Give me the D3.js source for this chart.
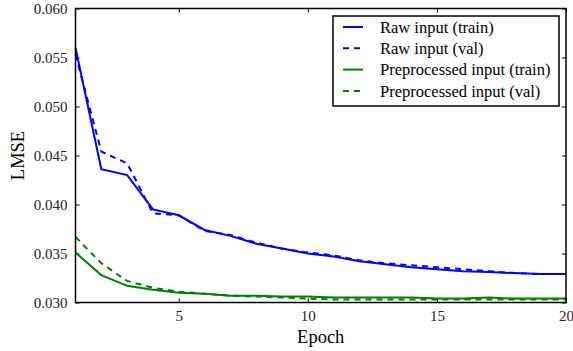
<!DOCTYPE html>
<html>
<head>
<meta charset="utf-8">
<script src="https://cdn.jsdelivr.net/npm/d3@7"></script>
<style>
  body { margin: 0; background: #fff; }
</style>
</head>
<body>
<div id="chart"></div>
<script>
const epochs = d3.range(1, 21);
const rawTrain = [0.0560, 0.0436, 0.0430, 0.0395, 0.0389, 0.0374, 0.0368, 0.0360, 0.0355, 0.0350,
                  0.0347, 0.0342, 0.0339, 0.0336, 0.0334, 0.0332, 0.0331, 0.0330, 0.0329, 0.0329];
const rawVal   = [0.0553, 0.0454, 0.0442, 0.0391, 0.0389, 0.0373, 0.0369, 0.0361, 0.0355, 0.0351,
                  0.0348, 0.0343, 0.0340, 0.0338, 0.0336, 0.0334, 0.0332, 0.0330, 0.0329, 0.0329];
const preTrain = [0.0351, 0.0328, 0.0317, 0.0313, 0.0310, 0.0309, 0.0307, 0.0307, 0.0306, 0.0306,
                  0.0305, 0.0305, 0.0305, 0.0305, 0.0304, 0.0304, 0.0305, 0.0304, 0.0304, 0.0304];
const preVal   = [0.0367, 0.0340, 0.0322, 0.0315, 0.0311, 0.0309, 0.0307, 0.0306, 0.0305, 0.0304,
                  0.0303, 0.0303, 0.0303, 0.0303, 0.0303, 0.0303, 0.0303, 0.0303, 0.0303, 0.0303];
const xTicks = [5, 10, 15, 20];
const yTicks = [0.030, 0.035, 0.040, 0.045, 0.050, 0.055, 0.060];

const series = [
  {name: "Raw input (train)", values: rawTrain, color: "#0000ff", dash: null},
  {name: "Raw input (val)", values: rawVal, color: "#0000ff", dash: "6,5"},
  {name: "Preprocessed input (train)", values: preTrain, color: "#008000", dash: null},
  {name: "Preprocessed input (val)", values: preVal, color: "#008000", dash: "6,5"}
];

const font = '"Liberation Serif", "Times New Roman", serif';
const width = 573, height = 351,
  margin = {top: 8.5, right: 7, bottom: 48.5, left: 75.5};

const svg = d3.select("#chart")
  .append("svg")
  .attr("width", width)
  .attr("height", height);

const x = d3.scaleLinear([1, 20], [margin.left, width - margin.right]);
const y = d3.scaleLinear([0.030, 0.060], [height - margin.bottom, margin.top]);

// ticks on all four sides, pointing inward
const tickLen = 4;
svg.append("g")
  .attr("transform", `translate(0,${height - margin.bottom})`)
  .call(d3.axisBottom(x).tickValues(xTicks).tickSizeInner(-tickLen).tickSizeOuter(0).tickPadding(8))
  .call(g => g.select(".domain").remove())
  .call(g => g.selectAll("text").style("font-size", "15px").style("font-family", font).attr("fill", "#222"));

svg.append("g")
  .attr("transform", `translate(0,${margin.top})`)
  .call(d3.axisTop(x).tickValues(xTicks).tickSizeInner(-tickLen).tickSizeOuter(0).tickFormat(""))
  .call(g => g.select(".domain").remove());

svg.append("g")
  .attr("transform", `translate(${margin.left},0)`)
  .call(d3.axisLeft(y).tickValues(yTicks).tickSizeInner(-tickLen).tickSizeOuter(0).tickPadding(8).tickFormat(d3.format(".3f")))
  .call(g => g.select(".domain").remove())
  .call(g => g.selectAll("text").style("font-size", "15px").style("font-family", font).attr("fill", "#222"));

svg.append("g")
  .attr("transform", `translate(${width - margin.right},0)`)
  .call(d3.axisRight(y).tickValues(yTicks).tickSizeInner(-tickLen).tickSizeOuter(0).tickFormat(""))
  .call(g => g.select(".domain").remove());

const line = d3.line()
  .x((d, i) => x(epochs[i]))
  .y(d => y(d));

svg.append("g")
  .selectAll("path")
  .data(series)
  .join("path")
  .attr("fill", "none")
  .attr("stroke", d => d.color)
  .attr("stroke-width", 2)
  .attr("stroke-dasharray", d => d.dash)
  .attr("d", d => line(d.values));

// frame
svg.append("rect")
  .attr("x", margin.left)
  .attr("y", margin.top)
  .attr("width", width - margin.left - margin.right)
  .attr("height", height - margin.top - margin.bottom)
  .attr("fill", "none")
  .attr("stroke", "#000")
  .attr("stroke-width", 1.5);

svg.append("text")
  .attr("text-anchor", "middle")
  .attr("transform", `translate(24,${(margin.top + height - margin.bottom) / 2}) rotate(-90)`)
  .style("font-family", font)
  .style("font-size", "18.5px")
  .text("LMSE");

svg.append("text")
  .attr("text-anchor", "middle")
  .attr("x", (margin.left + width - margin.right) / 2)
  .attr("y", 343)
  .style("font-family", font)
  .style("font-size", "18.5px")
  .text("Epoch");

// legend
const legend = svg.append("g").attr("transform", "translate(333,16)");
legend.append("rect")
  .attr("width", 226)
  .attr("height", 90)
  .attr("fill", "#fff")
  .attr("stroke", "#000")
  .attr("stroke-width", 1.5);

const item = legend.selectAll(".legend-item")
  .data(series)
  .join("g")
  .attr("class", "legend-item")
  .attr("transform", (d, i) => `translate(0,${11 + i * 21.3})`);

item.append("line")
  .attr("x1", 10).attr("x2", 30)
  .attr("stroke", d => d.color)
  .attr("stroke-width", 2)
  .attr("stroke-dasharray", d => d.dash);

item.append("text")
  .attr("x", 47)
  .attr("dy", "0.35em")
  .style("font-family", font)
  .style("font-size", "16.5px")
  .text(d => d.name);
</script>
</body>
</html>
